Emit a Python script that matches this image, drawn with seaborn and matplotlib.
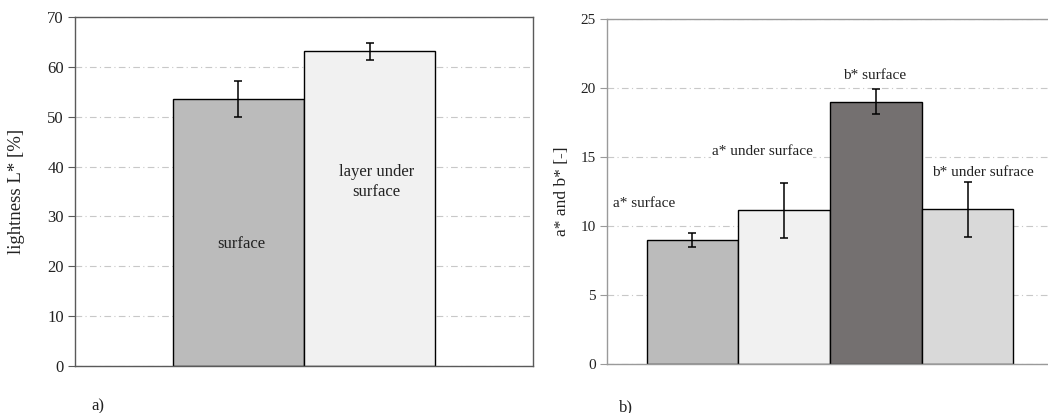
import matplotlib
matplotlib.use("Agg")
import matplotlib.pyplot as plt
import seaborn as sns
import pandas as pd

# ---- data ----
left_labels = ["surface", "layer under\nsurface"]
left_values = [53.5, 63.1]
left_err = [3.6, 1.7]
left_colors = ["#bbbbbb", "#f1f1f1"]

right_labels = ["a* surface", "a* under surface", "b* surface", "b* under sufrace"]
right_values = [9.0, 11.15, 19.0, 11.2]
right_err = [0.5, 2.0, 0.9, 2.0]
right_colors = ["#bbbbbb", "#f1f1f1", "#747070", "#d9d9d9"]

sns.set_theme(style="white")
plt.rcParams["font.family"] = ["Liberation Serif", "DejaVu Serif"]
plt.rcParams["font.size"] = 12

W, H = 1048, 413
fig = plt.figure(figsize=(W / 100, H / 100), dpi=100)


def px_axes(x0, y0, x1, y1):
    return fig.add_axes([x0 / W, 1 - y1 / H, (x1 - x0) / W, (y1 - y0) / H])


def style(ax, ymax, step, spine_color, tick_size):
    ax.set_ylim(0, ymax)
    ax.set_yticks(range(0, ymax + 1, step))
    ax.yaxis.grid(True, linestyle=(0, (6, 3, 1, 3)), color="#c8c8c8", lw=0.8)
    ax.xaxis.grid(False)
    ax.set_axisbelow(True)
    for s in ax.spines.values():
        s.set_visible(True)
        s.set_color(spine_color)
        s.set_linewidth(1.0)
    ax.tick_params(axis="y", which="major", left=True, length=5, width=0.8,
                   color=spine_color, labelsize=tick_size, pad=3, labelcolor="#222222")
    ax.tick_params(axis="x", bottom=False, labelbottom=False)
    ax.set_xlabel("")


def add_err(ax, errs):
    bars = sorted([p for p in ax.patches if p.get_height() > 0], key=lambda p: p.get_x())
    for p, e in zip(bars, errs):
        xc = p.get_x() + p.get_width() / 2
        ax.errorbar(xc, p.get_height(), yerr=e, fmt="none", ecolor="black",
                    elinewidth=1.1, capsize=2.8, capthick=1.1, zorder=8)
    return bars


# ---- left panel ----
ax1 = px_axes(75, 17, 533, 366)
df1 = pd.DataFrame({"g": ["L"] * len(left_labels), "label": left_labels, "value": left_values})
sns.barplot(data=df1, x="g", y="value", hue="label", hue_order=left_labels,
            palette=left_colors, edgecolor="black", linewidth=1.0, width=0.8,
            errorbar=None, legend=False, ax=ax1, saturation=1)
ax1.set_xlim(-0.6966, 0.6966)
style(ax1, 70, 10, "#5a5a5a", 12)
bars1 = add_err(ax1, left_err)
ax1.set_ylabel("lightness L* [%]", fontsize=13.5, color="#222222")
ax1.yaxis.set_label_coords(-0.109, 0.5)
b = bars1[0]
ax1.text(b.get_x() + b.get_width() / 2 + 0.01, 24.4, left_labels[0], ha="center", va="center",
         fontsize=12, color="#222222")
b = bars1[1]
ax1.text(b.get_x() + b.get_width() / 2 + 0.02, 36.9, left_labels[1], ha="center", va="center",
         fontsize=12, color="#222222", linespacing=1.3)

# ---- right panel ----
ax2 = px_axes(607, 19, 1053, 364)
df2 = pd.DataFrame({"g": ["C"] * len(right_labels), "label": right_labels, "value": right_values})
sns.barplot(data=df2, x="g", y="value", hue="label", hue_order=right_labels,
            palette=right_colors, edgecolor="black", linewidth=1.0, width=0.8,
            errorbar=None, legend=False, ax=ax2, saturation=1)
ax2.set_xlim(-0.4865, 0.4865)
style(ax2, 25, 5, "#9a9a9a", 11)
bars2 = add_err(ax2, right_err)
ax2.set_ylabel("a* and b* [-]", fontsize=12.5, color="#222222")
ax2.yaxis.set_label_coords(-0.083, 0.5)

lab_pos = [(11.6, -0.105), (15.37, -0.048), (20.88, -0.002), (13.85, 0.033)]
for b, lab, (yy, dx) in zip(bars2, right_labels, lab_pos):
    xc = b.get_x() + b.get_width() / 2 + dx
    ax2.text(xc, yy, lab, ha="center", va="center", fontsize=11, color="#222222",
             bbox=dict(facecolor="white", edgecolor="none", pad=0.3), zorder=6)

fig.text(98 / W, 1 - 406 / H, "a)", ha="center", va="center", fontsize=12, color="#222222")
fig.text(626 / W, 1 - 407 / H, "b)", ha="center", va="center", fontsize=12, color="#222222")

fig.savefig("out.png", dpi=100)
